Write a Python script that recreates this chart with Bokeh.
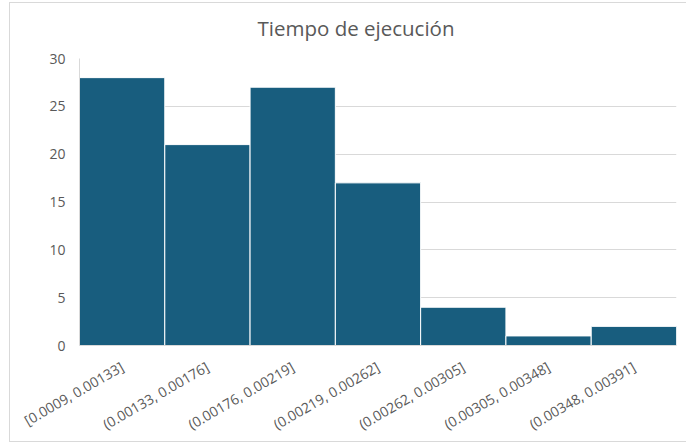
from bokeh.plotting import figure
from bokeh.models import FactorRange, Range1d
from bokeh.embed import file_html
from bokeh.resources import INLINE
import math

# Histogram bins of execution time and their counts
bins = [
    "[0.0009, 0.00133]",
    "(0.00133, 0.00176]",
    "(0.00176, 0.00219]",
    "(0.00219, 0.00262]",
    "(0.00262, 0.00305]",
    "(0.00305, 0.00348]",
    "(0.00348, 0.00391]",
]
counts = [28, 21, 27, 17, 4, 1, 2]
y_ticks = [0, 5, 10, 15, 20, 25, 30]

FONT = "Open Sans"
TEXT_COLOR = "#595959"
GRID_COLOR = "#d9d9d9"
BAR_COLOR = "#185d7e"

SHIFT = 7  # canvas starts this many pixels above the page top

p = figure(
    x_range=FactorRange(*bins, range_padding=0),
    y_range=Range1d(0, 30),
    width=686,
    height=444 + SHIFT,
    output_backend="svg",
    toolbar_location=None,
    min_border_left=79,
    min_border_right=10,
    min_border_top=58 + SHIFT,
    min_border_bottom=99,
    title="Tiempo de ejecución",
)

# Thin chart-area border (left, top, bottom) painted behind a transparent canvas
line = f"linear-gradient({GRID_COLOR}, {GRID_COLOR})"
p.styles = {
    "margin-top": f"-{SHIFT}px",
    "background": (
        f"{line} 9px {2 + SHIFT}px / 1px 440px no-repeat, "
        f"{line} 9px {2 + SHIFT}px / 677px 1px no-repeat, "
        f"{line} 9px {441 + SHIFT}px / 677px 1px no-repeat, "
        "white"
    ),
}
p.border_fill_alpha = 0
p.background_fill_color = "white"
p.outline_line_color = None

p.vbar(x=bins, top=counts, width=1.0, fill_color=BAR_COLOR,
       line_color="white", line_width=1)

# Title, centred over the whole chart area rather than the plot frame
p.title.align = "left"
p.title.text_font = FONT
p.title.text_font_size = "20.5px"
p.title.text_font_style = "normal"
p.title.text_color = TEXT_COLOR
p.title.offset = 178
p.title.standoff = 27 + SHIFT

# Grid
p.xgrid.grid_line_color = None
p.ygrid.grid_line_color = GRID_COLOR
p.ygrid.grid_line_width = 1

# Y axis
p.yaxis.ticker = y_ticks
p.yaxis.axis_line_color = GRID_COLOR
p.yaxis.major_tick_line_color = None
p.yaxis.minor_tick_line_color = None
p.yaxis.major_label_text_font = FONT
p.yaxis.major_label_text_font_size = "14px"
p.yaxis.major_label_text_color = TEXT_COLOR
p.yaxis.major_label_standoff = 8

# X axis
p.xaxis.axis_line_color = GRID_COLOR
p.xaxis.major_tick_line_color = None
p.xaxis.minor_tick_line_color = None
p.xaxis.major_label_orientation = math.radians(30)
p.xaxis.major_label_text_font = FONT
p.xaxis.major_label_text_font_size = "14px"
p.xaxis.major_label_text_color = TEXT_COLOR
p.xaxis.major_label_standoff = 14

open("out.html", "w").write(file_html(p, INLINE))
